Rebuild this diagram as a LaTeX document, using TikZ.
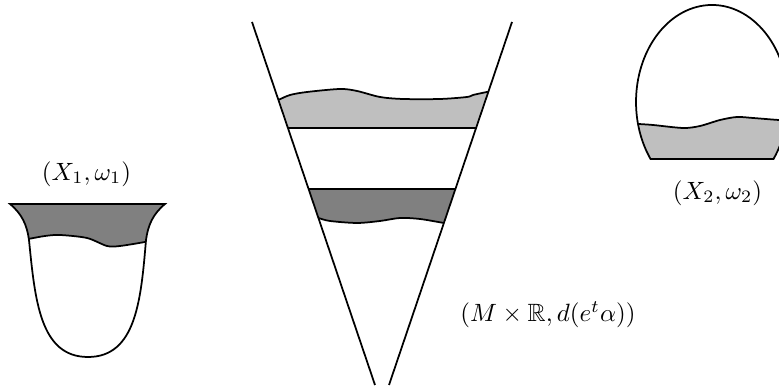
\documentclass[tikz,border=0pt]{standalone}
\usepackage{amsmath, amsfonts, amssymb}
\usepackage{tikz}

\tikzset{
    darkband/.style={fill=gray},
    lightband/.style={fill=gray!50}
}

\begin{document}
\begin{tikzpicture}[x=0.4pt, y=-0.4pt, line width=0.7pt]
    % параметры
    \def\W{779}     % ширина рисунка
    \def\H{390}     % высота рисунка

    % рамка рисунка
    \clip (0,0) rectangle (\W,\H);

    % левое многообразие
    \path[save path=\leftbody] (10,204) .. controls (22,214) and (27,225) .. (29,240)
        .. controls (35,300) and (40,357) .. (88,357)
        .. controls (136,357) and (141,300) .. (146,240)
        .. controls (148,225) and (153,214) .. (165,204) -- cycle;
    \begin{scope}
        \clip[use path=\leftbody];
        \fill[darkband] (0,190) -- (0,240) -- plot[smooth] coordinates {(20,240) (28,239) (45,236) (60,235) (87,238) (107,246) (120,246) (145,242) (155,240)} -- (180,240) -- (180,190) -- cycle;
        \draw plot[smooth] coordinates {(20,240) (28,239) (45,236) (60,235) (87,238) (107,246) (120,246) (145,242) (155,240)};
    \end{scope}
    \draw[use path=\leftbody];
    \node (lbl-x1) at (86.5,174) {$(X_1,\omega_1)$};

    % конус
    \coordinate (cone-l) at (252,22);
    \coordinate (cone-r) at (512,22);
    \coordinate (apex) at (382,405.6);
    \coordinate (end-l) at (375,385);
    \coordinate (end-r) at (389,385);
    \begin{scope}
        \clip (cone-l) -- (cone-r) -- (apex) -- cycle;
        % верхняя полоса
        \fill[lightband] (250,102) -- plot[smooth] coordinates {(270,102) (278,100) (290,95) (307,92) (340,89) (357,91) (380,97) (403,99) (440,99) (467,97) (473,95) (487,92) (495,91)} -- (520,91) -- (520,128) -- (250,128) -- cycle;
        \draw plot[smooth] coordinates {(270,102) (278,100) (290,95) (307,92) (340,89) (357,91) (380,97) (403,99) (440,99) (467,97) (473,95) (487,92) (495,91)};
        \draw (250,128) -- (520,128);
        % нижняя полоса
        \fill[darkband] (250,189) -- (250,217) -- plot[smooth] coordinates {(310,217) (318,218) (330,221) (357,223) (380,221) (400,218) (420,219) (444,223) (452,224)} -- (520,224) -- (520,189) -- cycle;
        \draw (250,189) -- (520,189);
        \draw plot[smooth] coordinates {(310,217) (318,218) (330,221) (357,223) (380,221) (400,218) (420,219) (444,223) (452,224)};
    \end{scope}
    \draw (cone-l) -- (end-l);
    \draw (cone-r) -- (end-r);
    \node (lbl-m) at (548,315) {$(M\times\mathbb{R},d(e^t\alpha))$};

    % правое многообразие (эллипс, срезанный снизу)
    \path[save path=\rightbody] (773.5,159) arc[start angle=36, end angle=-216, x radius=76, y radius=97] -- cycle;
    \begin{scope}
        \clip[use path=\rightbody];
        \fill[lightband] (620,124) -- plot[smooth] coordinates {(630,124) (638,124) (653,125) (683,128) (700,126) (720,120) (737,117) (753,118) (779,120) (790,120)} -- (800,120) -- (800,170) -- (620,170) -- cycle;
        \draw plot[smooth] coordinates {(630,124) (638,124) (653,125) (683,128) (700,126) (720,120) (737,117) (753,118) (779,120) (790,120)};
    \end{scope}
    \draw[use path=\rightbody];
    \node (lbl-x2) at (717.5,193) {$(X_2,\omega_2)$};
\end{tikzpicture}
\end{document}
